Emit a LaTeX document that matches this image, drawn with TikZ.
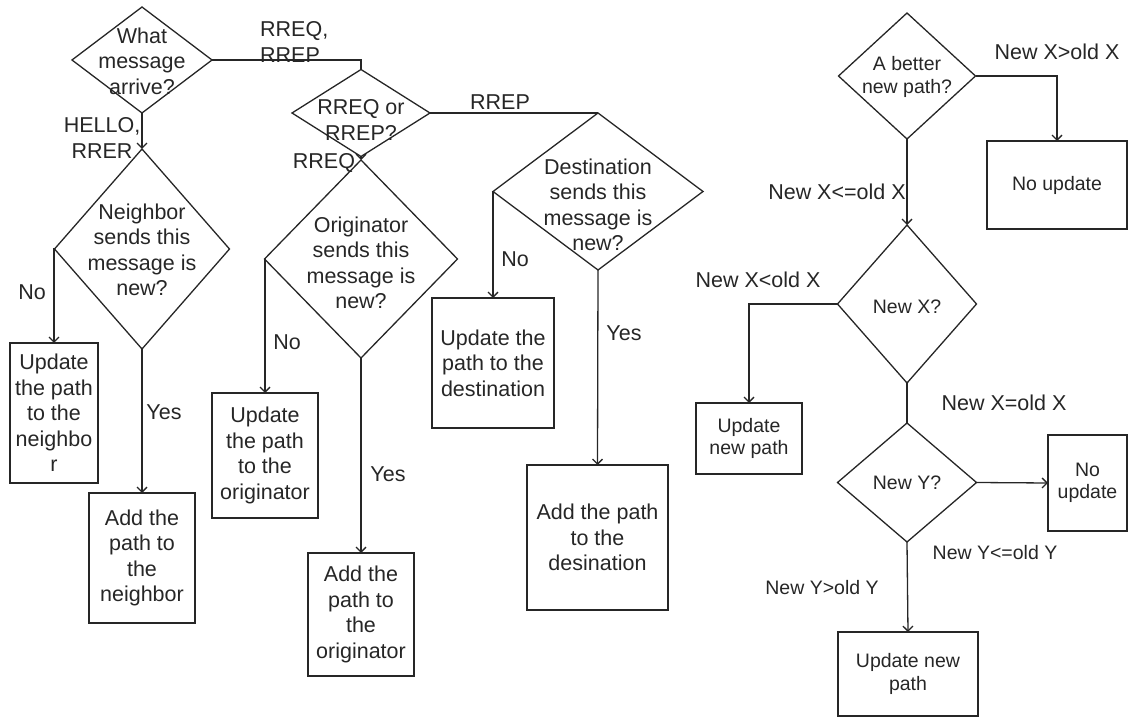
\documentclass[tikz,border=0pt]{standalone}
\usepackage{fontspec}
\setmainfont{Liberation Sans}
\usetikzlibrary{shapes.geometric,arrows.meta}
\newcommand{\lfont}{\fontsize{21.5}{25.5}\selectfont}
\newcommand{\rfont}{\fontsize{19.5}{22.5}\selectfont}
\begin{document}
\begin{tikzpicture}[x=1pt,y=-1pt,
  ln/.style={line width=1.3pt, draw=black!85},
  dec/.style 2 args={diamond, ln, minimum width=#1, minimum height=#2, inner sep=0, outer sep=0},
  box/.style 2 args={rectangle, ln, minimum width=#1, minimum height=#2, inner sep=0, outer sep=0, align=center, text=black!85},
  txt/.style={inner sep=0, align=center, text=black!85},
  arr/.style={ln, -{Straight Barb[length=5pt,width=10pt]}},
  lft/.style={font=\lfont},
  rgt/.style={font=\rfont}]
\useasboundingbox (0,0) rectangle (1128,719);

% ---------- left flowchart ----------
\node[dec={140pt}{106pt}] (d1) at (142,60) {};
\node[txt,lft] (d1t) at (142,61) {What\\message\\arrive?};
\node[dec={138pt}{87pt}] (d2) at (361,113) {};
\node[txt,lft] (d2t) at (361,120) {RREQ or\\RREP?};
\node[dec={175pt}{200pt}] (dN) at (142,249) {};
\node[txt,lft] (dNt) at (142,250) {Neighbor\\sends this\\message is\\new?};
\node[dec={193pt}{198pt}] (dO) at (361,259) {};
\node[txt,lft] (dOt) at (361,263) {Originator\\sends this\\message is\\new?};
\node[dec={210pt}{157pt}] (dD) at (598,191.5) {};
\node[txt,lft] (dDt) at (598,205) {Destination\\sends this\\message is\\new?};

\node[box={88pt}{140pt},lft] (bN1) at (54,413) {Update\\the path\\to the\\neighbo\\r};
\node[box={106pt}{130pt},lft] (bN2) at (142,558) {Add the\\path to\\the\\neighbor};
\node[box={106pt}{125pt},lft] (bO1) at (265,455.5) {Update\\the path\\to the\\originator};
\node[box={106pt}{123pt},lft] (bO2) at (361,614.5) {Add the\\path to\\the\\originator};
\node[box={122pt}{130pt},lft] (bD1) at (493,363) {Update the\\path to the\\destination};
\node[box={141pt}{145pt},lft] (bD2) at (597.5,537.5) {Add the path\\to the\\desination};

\draw[ln] (d1.east) -| (d2.north);
\draw[arr] (d1.south) -- (dN.north);
\draw[arr] (dN.west) -| (bN1.north);
\draw[arr] (dN.south) -- (bN2.north);
\draw[arr] (d2.south) -- (dO.north);
\draw[ln] (d2.east) -- (dD.north);
\draw[arr] (dO.west) -| (bO1.north);
\draw[arr] (dO.south) -- (bO2.north);
\draw[arr] (dD.west) -| (bD1.north);
\draw[arr] (dD.south) -- (bD2.north);

\node[txt,lft,align=left,anchor=west] (lRR) at (260,42) {RREQ,\\RREP};
\node[txt,lft] (lHE) at (102,138) {HELLO,\\RRER};
\node[txt,lft] (lRQ) at (324,163) {RREQ};
\node[txt,lft] (lRP) at (500,102) {RREP};
\node[txt,lft] (lNo1) at (32,292) {No};
\node[txt,lft] (lYe1) at (164,412) {Yes};
\node[txt,lft] (lNo2) at (287,342) {No};
\node[txt,lft] (lYe2) at (388,474) {Yes};
\node[txt,lft] (lNo3) at (515,259) {No};
\node[txt,lft] (lYe3) at (624,333) {Yes};

% ---------- right flowchart ----------
\node[dec={137pt}{126pt}] (dA) at (907,76) {};
\node[txt,rgt] (dAt) at (907,77) {A better\\new path?};
\node[dec={139pt}{158pt}] (dX) at (907,304) {};
\node[txt,rgt] (dXt) at (907,307) {New X?};
\node[dec={139pt}{119pt}] (dY) at (907,482.5) {};
\node[txt,rgt] (dYt) at (907,483) {New Y?};

\node[box={140pt}{88pt},rgt] (bA) at (1057,185) {No update};
\node[box={106pt}{71pt},rgt] (bX) at (749,438.5) {Update\\new path};
\node[box={79pt}{96pt},rgt] (bY1) at (1087.5,483) {No\\update};
\node[box={140pt}{84pt},rgt] (bY2) at (908,674) {Update new\\path};

\draw[arr] (dA.east) -| (bA.north);
\draw[arr] (dA.south) -- (dX.north);
\draw[arr] (dX.west) -| (bX.north);
\draw[ln] (dX.south) -- (dY.north);
\draw[arr] (dY.east) -- (bY1.west);
\draw[arr] (dY.south) -- (bY2.north);

\node[txt,lft] (lX1) at (1057,52) {New X>old X};
\node[txt,lft] (lX2) at (837,192) {New X<=old X};
\node[txt,lft] (lX3) at (758,280) {New X<old X};
\node[txt,lft] (lX4) at (1004,403) {New X=old X};
\node[txt,rgt] (lY1) at (995,553) {New Y<=old Y};
\node[txt,rgt] (lY2) at (822,588) {New Y>old Y};
\end{tikzpicture}
\end{document}
